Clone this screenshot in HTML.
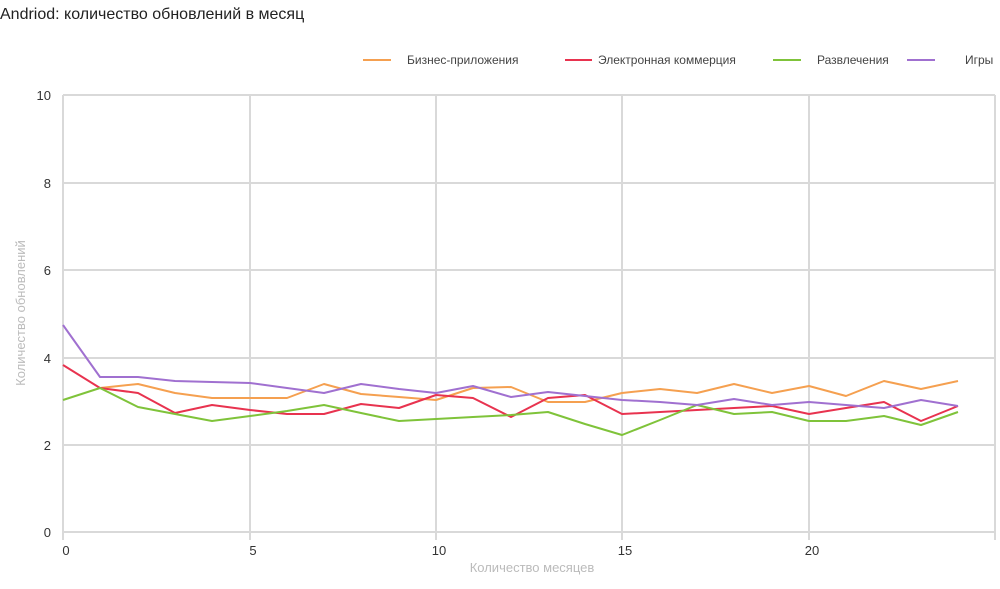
<!DOCTYPE html>
<html><head><meta charset="utf-8"><style>
body{margin:0;background:#fff;width:1000px;height:584px;overflow:hidden;font-family:"Liberation Sans",sans-serif}
</style></head><body>
<svg width="1000" height="584" xmlns="http://www.w3.org/2000/svg" font-family="Liberation Sans, sans-serif">
<text x="0" y="19" font-size="16" fill="#222">Andriod: количество обновлений в месяц</text>
<g font-size="12" fill="#444">
<line x1="363" y1="60" x2="391" y2="60" stroke="#f5a050" stroke-width="2"/><text x="407" y="64">Бизнес-приложения</text>
<line x1="565" y1="60" x2="592" y2="60" stroke="#e8334f" stroke-width="2"/><text x="598" y="64">Электронная коммерция</text>
<line x1="773" y1="60" x2="801" y2="60" stroke="#7fc33a" stroke-width="2"/><text x="817" y="64">Развлечения</text>
<line x1="907" y1="60" x2="935" y2="60" stroke="#a070d0" stroke-width="2"/><text x="965" y="64">Игры</text>
</g>
<g stroke="#d9d9d9" stroke-width="2">
<line x1="63" y1="95" x2="995" y2="95"/><line x1="63" y1="183" x2="995" y2="183"/><line x1="63" y1="270" x2="995" y2="270"/><line x1="63" y1="358" x2="995" y2="358"/><line x1="63" y1="445" x2="995" y2="445"/><line x1="63" y1="532" x2="995" y2="532"/>
<line x1="63" y1="95" x2="63" y2="540"/><line x1="250" y1="95" x2="250" y2="540"/><line x1="436" y1="95" x2="436" y2="540"/><line x1="622" y1="95" x2="622" y2="540"/><line x1="809" y1="95" x2="809" y2="540"/><line x1="995" y1="95" x2="995" y2="540"/>
</g>
<g font-size="13" fill="#333" text-anchor="end">
<text x="51" y="100">10</text><text x="51" y="188">8</text><text x="51" y="275">6</text><text x="51" y="363">4</text><text x="51" y="450">2</text><text x="51" y="537">0</text>
</g>
<g font-size="13" fill="#333" text-anchor="middle">
<text x="66" y="555">0</text><text x="253" y="555">5</text><text x="439" y="555">10</text><text x="625" y="555">15</text><text x="812" y="555">20</text>
</g>
<text x="532" y="572" font-size="13" fill="#bbb" text-anchor="middle">Количество месяцев</text>
<text transform="translate(25,313) rotate(-90)" font-size="13" fill="#bbb" text-anchor="middle">Количество обновлений</text>
<g fill="none" stroke-width="2" stroke-linejoin="round">
<polyline stroke="#f5a050" points="100,388 138,384 175,393 212,398 250,398 287,398 324,384 361,394 399,397 436,400 473,388 511,387 548,402 585,402 622,393 660,389 697,393 734,384 772,393 809,386 846,396 884,381 921,389 958,381"/>
<polyline stroke="#e8334f" points="63,365 100,388 138,393 175,413 212,405 250,410 287,414 324,414 361,404 399,408 436,395 473,398 511,417 548,398 585,395 622,414 660,412 697,410 734,408 772,406 809,414 846,408 884,402 921,421 958,406"/>
<polyline stroke="#7fc33a" points="63,400 100,388 138,407 175,414 212,421 250,416 287,411 324,405 361,413 399,421 436,419 473,417 511,415 548,412 585,424 622,435 660,420 697,405 734,414 772,412 809,421 846,421 884,416 921,425 958,412"/>
<polyline stroke="#a070d0" points="63,325 100,377 138,377 175,381 212,382 250,383 287,388 324,393 361,384 399,389 436,393 473,386 511,397 548,392 585,396 622,400 660,402 697,405 734,399 772,405 809,402 846,405 884,408 921,400 958,406"/>
</g>
</svg>
</body></html>
